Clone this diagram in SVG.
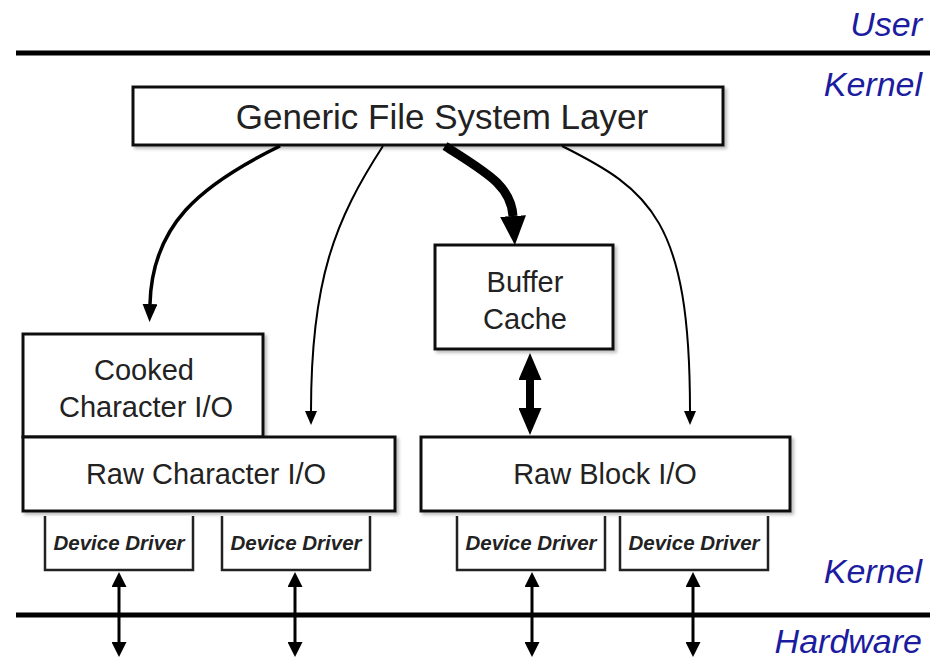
<svg xmlns="http://www.w3.org/2000/svg" width="930" height="659" viewBox="0 0 930 659">
<style>
.box{fill:#fff;stroke:#111;stroke-width:3;filter:url(#sh)}
.dd{fill:#fff;stroke:#222;stroke-width:2.5}
.lbl{font-family:"Liberation Sans",Arial,sans-serif;font-size:29px;fill:#222;text-anchor:middle}
.ddt{font-family:"Liberation Sans",Arial,sans-serif;font-size:20.5px;font-weight:bold;font-style:italic;fill:#222;text-anchor:middle}
.zone{font-family:"Liberation Sans",Arial,sans-serif;font-size:34px;font-style:italic;fill:#1c1ca0;text-anchor:end}
.sep{stroke:#000;stroke-width:5}
.c{fill:none;stroke:#000}
</style>
<defs>
<filter id="sh" x="-10%" y="-10%" width="120%" height="130%">
<feDropShadow dx="2.5" dy="2.5" stdDeviation="1.5" flood-color="#000" flood-opacity="0.25"/>
</filter>
<marker id="hS" markerUnits="userSpaceOnUse" viewBox="0 0 14 12" markerWidth="14" markerHeight="12" refX="0" refY="6" orient="auto"><path d="M0,0 L14,6 L0,12 z" fill="#000"/></marker>
<marker id="hM" markerUnits="userSpaceOnUse" viewBox="0 0 18 15" markerWidth="18" markerHeight="15" refX="0" refY="7.5" orient="auto"><path d="M0,0 L18,7.5 L0,15 z" fill="#000"/></marker>
<marker id="hL" markerUnits="userSpaceOnUse" viewBox="0 0 29 26" markerWidth="29" markerHeight="26" refX="0" refY="13" orient="auto"><path d="M0,0 L29,13 L0,26 z" fill="#000"/></marker>
<marker id="hD" markerUnits="userSpaceOnUse" viewBox="0 0 27 23" markerWidth="27" markerHeight="23" refX="0" refY="11.5" orient="auto-start-reverse"><path d="M0,0 L27,11.5 L0,23 z" fill="#000"/></marker>
<marker id="hV" markerUnits="userSpaceOnUse" viewBox="0 0 15 15" markerWidth="15" markerHeight="15" refX="0" refY="7.5" orient="auto-start-reverse"><path d="M0,0 L15,7.5 L0,15 z" fill="#000"/></marker>
</defs>

<g id="zones">
<line class="sep" x1="16" y1="53" x2="930" y2="53"/>
<line class="sep" x1="16" y1="615" x2="930" y2="615"/>
<text class="zone" x="922" y="36">User</text>
<text class="zone" x="922" y="96">Kernel</text>
<text class="zone" x="922" y="583">Kernel</text>
<text class="zone" x="922" y="653">Hardware</text>
</g>

<g id="gfs">
<rect class="box" x="133" y="87" width="590" height="58"/>
<text class="lbl" x="442" y="129" style="font-size:35px">Generic File System Layer</text>
</g>

<g id="buffer-cache">
<rect class="box" x="435" y="245" width="178" height="104"/>
<text class="lbl" x="525" y="292">Buffer</text>
<text class="lbl" x="525" y="329">Cache</text>
</g>

<g id="cooked-char">
<rect class="box" x="23" y="334" width="240" height="103"/>
<text class="lbl" x="144" y="380">Cooked</text>
<text class="lbl" x="146" y="417">Character I/O</text>
</g>

<g id="raw-char">
<rect class="box" x="23" y="437" width="372" height="74"/>
<text class="lbl" x="206" y="484">Raw Character I/O</text>
</g>

<g id="raw-block">
<rect class="box" x="421" y="437" width="369" height="74"/>
<text class="lbl" x="605" y="484">Raw Block I/O</text>
</g>

<g id="dd1">
<path class="dd" d="M45,516 V570 H193 V516"/>
<text class="ddt" x="119" y="550">Device Driver</text>
</g>
<g id="dd2">
<path class="dd" d="M222,516 V570 H370 V516"/>
<text class="ddt" x="296" y="550">Device Driver</text>
</g>
<g id="dd3">
<path class="dd" d="M457,516 V570 H605 V516"/>
<text class="ddt" x="531" y="550">Device Driver</text>
</g>
<g id="dd4">
<path class="dd" d="M620,516 V570 H768 V516"/>
<text class="ddt" x="694" y="550">Device Driver</text>
</g>

<g id="connectors">
<path class="c" stroke-width="3.5" d="M280,146 C200,185 152,225 150,304" marker-end="url(#hM)"/>
<path class="c" stroke-width="2" d="M383,146 C335,220 311,280 311,411" marker-end="url(#hS)"/>
<path class="c" stroke-width="9" d="M445,146 C485,172 511,185 513,216" marker-end="url(#hL)"/>
<path class="c" stroke-width="2" d="M562,146 C650,190 690,220 690,411" marker-end="url(#hS)"/>
<line class="c" stroke-width="8" x1="530" y1="380" x2="530" y2="408" marker-start="url(#hD)" marker-end="url(#hD)"/>
<line class="c" stroke-width="3" x1="119" y1="587" x2="119" y2="642" marker-start="url(#hV)" marker-end="url(#hV)"/>
<line class="c" stroke-width="3" x1="295" y1="587" x2="295" y2="642" marker-start="url(#hV)" marker-end="url(#hV)"/>
<line class="c" stroke-width="3" x1="532" y1="587" x2="532" y2="642" marker-start="url(#hV)" marker-end="url(#hV)"/>
<line class="c" stroke-width="3" x1="693" y1="587" x2="693" y2="642" marker-start="url(#hV)" marker-end="url(#hV)"/>
</g>
</svg>
